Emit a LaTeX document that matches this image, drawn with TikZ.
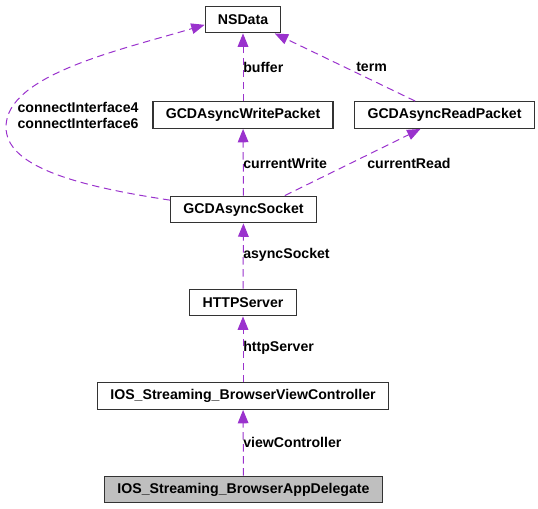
\documentclass[tikz,border=0pt]{standalone}
\usepackage{fontspec}
\setmainfont{Liberation Sans}
\usetikzlibrary{arrows.meta}
\definecolor{edgepurple}{HTML}{9A32CD}
\definecolor{boxgray}{HTML}{BFBFBF}
\begin{document}
\begin{tikzpicture}[x=0.75pt,y=-0.75pt,
    font=\fontsize{10.6}{12}\selectfont\bfseries,
    cls/.style={draw=black!80,line width=0.9pt,rectangle,minimum height=20pt,inner xsep=9.5pt,inner ysep=0pt},
    rel/.style={edgepurple,dashed,dash pattern=on 5.5pt off 3.5pt,line width=0.75pt,
        -{Triangle[length=10pt,width=8pt]}},
    lbl/.style={anchor=west,inner sep=0pt}]
    \useasboundingbox (0,0) rectangle (538,509);
    % classes
    \node[cls] (nsdata) at (243,19.5){NSData};
    \node[cls] (write) at (243,115){GCDAsyncWritePacket};
    \node[cls] (read) at (444.5,115){GCDAsyncReadPacket};
    \node[cls] (socket) at (243.5,209.5){GCDAsyncSocket};
    \node[cls] (http) at (243,302.5){HTTPServer};
    \node[cls] (viewctl) at (243,396){IOS\_Streaming\_BrowserViewController};
    \node[cls,fill=boxgray] (app) at (243.5,489.5){IOS\_Streaming\_BrowserAppDelegate};
    % members
    \draw[rel] (write) to (nsdata);
    \draw[rel] ([xshift=-22pt]read.north) to ([xshift=-5pt]nsdata.south east);
    \draw[rel] ([yshift=7pt]socket.west) .. controls (70,185) and (6,165) .. (6,127)
        .. controls (6,75) and (120,50) .. ([yshift=-4pt]nsdata.west);
    \draw[rel] (socket) to (write);
    \draw[rel] ([xshift=31pt]socket.north) to ([xshift=-18pt]read.south);
    \draw[rel] (http) to (socket);
    \draw[rel] (viewctl) to (http);
    \draw[rel] (app) to (viewctl);
    % labels
    \node[lbl] (lbuffer) at (243,67){buffer};
    \node[lbl] (lterm) at (356,67){term};
    \node[align=center,inner sep=0pt] (liface) at (78,115){connectInterface4\\connectInterface6};
    \node[lbl] (lwrite) at (243,163){currentWrite};
    \node[lbl] (lread) at (367,163){currentRead};
    \node[lbl] (lsocket) at (243,255){asyncSocket};
    \node[lbl] (lhttp) at (243,348){httpServer};
    \node[lbl] (lview) at (243,442){viewController};
\end{tikzpicture}
\end{document}
